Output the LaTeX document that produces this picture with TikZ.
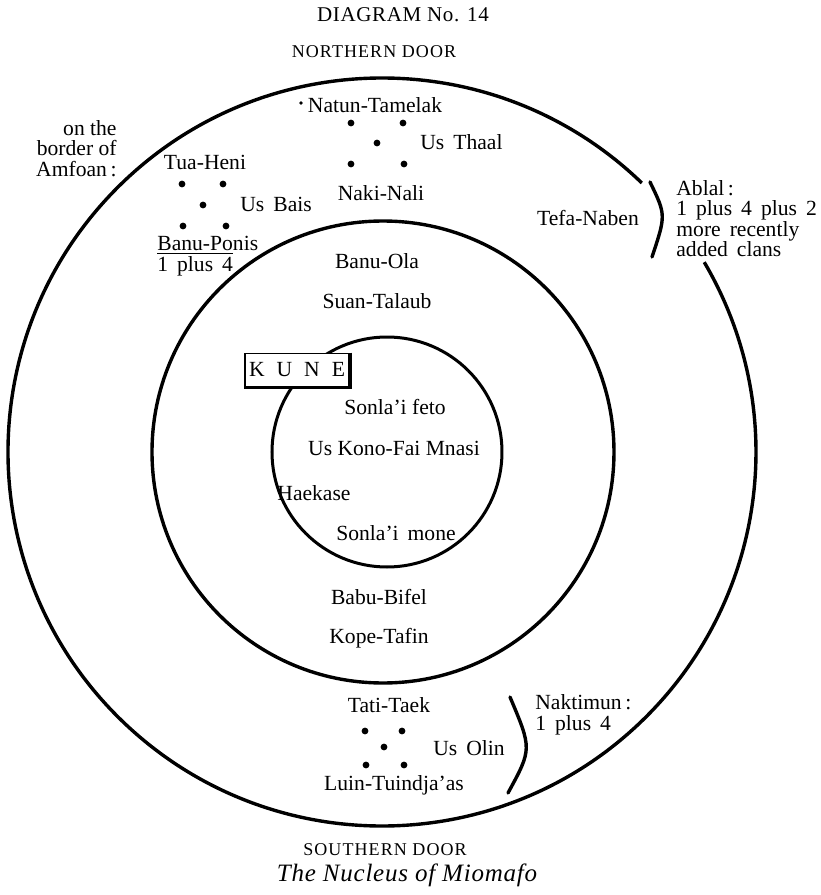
\documentclass[tikz,border=0pt]{standalone}
\usepackage{fontspec}
\setmainfont{Liberation Serif}
% ring radii
\def\outerr{374}
\def\middler{231}
\def\innerr{115}
\newcommand{\clanfont}{\fontsize{10.8}{10.2}\selectfont}
\newcommand{\doorfont}{\fontsize{9}{10}\selectfont\addfontfeature{LetterSpace=6}}

\begin{document}
\begin{tikzpicture}[x=0.5pt, y=0.5pt, font=\clanfont, inner sep=0pt,
		ring/.style={line width=1.7pt},
		brace/.style={line width=1.7pt, line cap=round}]
	\useasboundingbox (-382,-443) rectangle (438,452);

	% rings
	\draw[ring] (46:\outerr) arc[start angle=46, end angle=390.5, radius=\outerr];
	\draw[ring] (1,0) circle[radius=\middler];
	\draw[line width=1.5pt] (5,0) circle[radius=\innerr];

	% headings
	\node (title) at (21,437) {\fontsize{10.5}{12}\selectfont\addfontfeature{LetterSpace=3}DIAGRAM No. 14};
	\node[font=\doorfont] (north) at (-8,400) {NORTHERN DOOR};
	\node[font=\doorfont] (south) at (3,-398) {SOUTHERN DOOR};
	\node (caption) at (25,-423) {\fontsize{12.5}{14}\selectfont\itshape\addfontfeature{LetterSpace=3}The Nucleus of Miomafo};

	% outer ring
	\node[align=right, anchor=east] (amfoan) at (-265,303.5) {on the\\border of\\Amfoan\,:};
	\fill (-81,349) circle (1.8);
	\node (natun) at (-7,347) {Natun-Tamelak};
	\node[anchor=west] (thaal) at (38,310) {Us\, Thaal};
	\node (naki) at (-1,259) {Naki-Nali};
	\node (tua) at (-177,290) {Tua-Heni};
	\node[anchor=west] (bais) at (-142,248) {Us\, Bais};
	\node[align=left, anchor=west, font=\fontsize{10.8}{9}\selectfont] (ponis) at (-225,196)
		{\underline{Banu-Po}nis\\1\, plus\, 4};
	\foreach \p in {(-31,329),(21,329),(-5,309),(-31,288),(22,288),
		(-200,268),(-159,268),(-179,247),(-199,226),(-156,226),
		(-17,-279),(20,-279),(2,-295),(-16,-313),(22,-313)}
		\fill \p circle (3.4);

	\node (tefa) at (206,234) {Tefa-Naben};
	\coordinate (ab1) at (268,270);
	\coordinate (ab2) at (270,195);
	\draw[brace] (ab1) .. controls (284,237) .. (ab2);
	\node[align=left, anchor=west] (ablal) at (294,233.5)
		{Ablal\,:\\1\, plus\, 4\, plus\, 2\\more\, recently\\added\, clans};

	\node (tati) at (7,-253) {Tati-Taek};
	\node[anchor=west] (olin) at (51,-296) {Us\, Olin};
	\node (luin) at (12,-333) {Luin-Tuindja'as};
	\coordinate (nk1) at (128,-245);
	\coordinate (nk2) at (126,-341);
	\draw[brace] (nk1) .. controls (150,-297) .. (nk2);
	\node[align=left, anchor=west] (naktimun) at (153,-263) {Naktimun\,:\\1\, plus\, 4};

	% middle ring
	\node (ola) at (-5,191) {Banu-Ola};
	\node (suan) at (-5,151) {Suan-Talaub};
	\node (babu) at (-3,-145) {Babu-Bifel};
	\node (kope) at (-3,-186) {Kope-Tafin};

	% inner ring
	\node[draw, fill=white, line width=0.8pt, minimum width=52pt, minimum height=16.5pt] (kune) at (-85,82)
		{K\kern6pt U\kern6pt N\kern6pt E};
	\draw[line width=1.8pt] (kune.north east) -- (kune.south east) -- (kune.south west);
	\node (feto) at (13,45) {Sonla'i feto};
	\node (kono) at (12,4) {Us Kono-Fai Mnasi};
	\node (haekase) at (-68,-41) {Haekase};
	\node (mone) at (14,-81) {Sonla'i\, mone};
\end{tikzpicture}
\end{document}
